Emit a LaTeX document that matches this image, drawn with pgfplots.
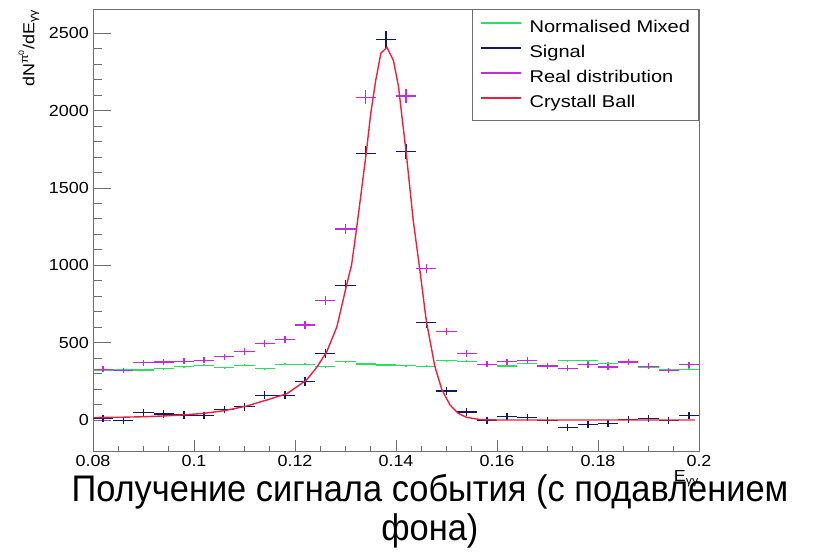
\documentclass[border=0pt]{standalone}
\usepackage{fontspec}
\setmainfont{Liberation Sans}
\newfontfamily\tickfont[FakeStretch=1.12]{Liberation Sans}
\newfontfamily\legfont[FakeStretch=1.18]{Liberation Sans}
\newfontfamily\titlefont[FakeStretch=0.93]{Liberation Sans}
\usepackage{pgfplots}
\usepackage{pgfplotstable}
\pgfplotsset{compat=1.18}

\definecolor{cgreen}{RGB}{40,225,90}
\definecolor{cnavy}{RGB}{15,25,105}
\definecolor{cmag}{RGB}{200,40,230}
\definecolor{cred}{RGB}{240,30,60}
\definecolor{frame}{RGB}{110,110,110}

% normalised mixed-event background
\pgfplotstableread{
x y ey
0.082 320 7
0.086 323 7
0.090 323 7
0.094 332 7
0.098 345 7
0.102 354 7
0.106 338 7
0.110 354 7
0.114 332 7
0.118 360 7
0.122 360 7
0.126 345 7
0.130 377 7
0.134 362 7
0.138 356 7
0.142 351 7
0.146 347 7
0.150 383 7
0.154 379 7
0.158 360 7
0.162 349 7
0.166 366 7
0.170 353 7
0.174 383 7
0.178 383 7
0.182 366 7
0.186 373 7
0.190 340 7
0.194 328 7
0.198 328 7
}\mixed

% background-subtracted signal
\pgfplotstableread{
x y ey
0.082 11 22
0.086 -4 22
0.090 47 23
0.094 39 23
0.098 32 23
0.102 30 24
0.106 69 24
0.110 86 25
0.114 160 26
0.118 160 26
0.122 250 28
0.126 431 30
0.130 868 37
0.134 1724 47
0.138 2461 54
0.142 1734 47
0.146 629 33
0.150 187 27
0.154 52 24
0.158 -4 23
0.162 21 23
0.166 17 24
0.170 -4 23
0.174 -47 23
0.178 -28 23
0.182 -24 23
0.186 4 23
0.190 9 23
0.194 -2 22
0.198 30 23
}\signal

% real (same-event) distribution
\pgfplotstableread{
x y ey
0.082 328 18.1
0.086 319 17.9
0.090 370 19.2
0.094 375 19.4
0.098 379 19.5
0.102 386 19.6
0.106 409 20.2
0.110 442 21.0
0.114 496 22.3
0.118 519 22.8
0.122 614 24.8
0.126 771 27.8
0.130 1235 35.1
0.134 2086 45.7
0.138 2817 53.1
0.142 2094 45.8
0.146 980 31.3
0.150 571 23.9
0.154 431 20.8
0.158 360 19.0
0.162 377 19.4
0.166 386 19.6
0.170 349 18.7
0.174 334 18.3
0.178 358 18.9
0.182 343 18.5
0.186 375 19.4
0.190 347 18.6
0.194 321 17.9
0.198 358 18.9
}\real

% Crystal Ball fit, sampled
\pgfplotstableread{
x y
0.0801 16
0.0860 18
0.0900 21
0.0940 26
0.0980 33
0.1020 43
0.1060 60
0.1104 90
0.1144 129
0.1184 170
0.1223 259
0.1243 340
0.1263 442
0.1283 603
0.1302 870
0.1312 1002
0.1322 1239
0.1341 1724
0.1350 1983
0.1360 2198
0.1370 2370
0.1382 2409
0.1395 2323
0.1405 2155
0.1411 1983
0.1420 1734
0.1434 1293
0.1448 950
0.1460 640
0.1477 345
0.1491 194
0.1507 97
0.1523 43
0.1540 17
0.1566 3
0.1600 0
0.1700 0
0.1800 0
0.1900 0
0.1992 0
}\cball

\begin{document}
\begin{tikzpicture}[x=1pt,y=1pt]
\path[use as bounding box] (0,0) rectangle (822,553);
\begin{axis}[
  at={(93pt,101.3pt)}, anchor=south west,
  scale only axis, width=606pt, height=442.4pt,
  xmin=0.08, xmax=0.2, ymin=-205, ymax=2655,
  axis line style={frame, line width=0.8pt},
  tick pos=left, tick align=inside,
  xtick={0.08,0.1,0.12,0.14,0.16,0.18,0.2},
  xticklabels={0.08,0.1,0.12,0.14,0.16,0.18,0.2},
  ytick={0,500,1000,1500,2000,2500},
  yticklabels={0,500,1000,1500,2000,2500},
  minor x tick num=3, minor y tick num=4,
  major tick length=18pt, minor tick length=9pt,
  xtick style={draw=none},
  ytick style={frame, line width=0.8pt},
  xmajorgrids, xminorgrids,
  major x grid style={frame, line width=0.8pt, dash pattern=on 12pt off 2000pt},
  minor x grid style={frame, line width=0.8pt, dash pattern=on 6pt off 2000pt},
  ticklabel style={font=\tickfont\fontsize{16}{16}\selectfont, inner sep=0pt},
  xticklabel style={anchor=north, yshift=-3.5pt},
  yticklabel style={anchor=east, xshift=-4pt},
  xlabel={E\textsubscript{γγ}},
  xlabel style={at={(axis description cs:1,0)}, anchor=north east, yshift=-19pt,
    inner sep=0pt, font=\tickfont\fontsize{16}{16}\selectfont},
  ylabel={dN\textsuperscript{π\textsuperscript{0}}/dE\textsubscript{γγ}},
  ylabel style={at={(axis description cs:-0.1056,1)}, anchor=east,
    inner sep=0pt, font=\tickfont\fontsize{16}{16}\selectfont},
  title={Получение сигнала события (с подавлением\\фона)},
  title style={at={(axis description cs:0.556,-0.064)}, anchor=north, align=center,
    inner sep=0pt, font=\titlefont\fontsize{37}{39}\selectfont},
  legend style={at={(1,1)}, anchor=north east, draw=frame, line width=0.8pt,
    fill=white, inner xsep=8.5pt, inner ysep=10pt, row sep=9pt,
    font=\legfont\fontsize{17}{17}\selectfont,
    nodes={inner sep=0pt, text height=12.5pt, text depth=3.5pt}},
  legend cell align=left,
]
% legend entries: coloured line samples with a gap before the text
\addlegendimage{legend image code/.code={%
  \fill[fill=cgreen, draw=none] (0pt,4.1pt) rectangle (40pt,5.9pt);
  \path (48pt,5pt);}}
\addlegendentry{Normalised Mixed}
\addlegendimage{legend image code/.code={%
  \fill[fill=cnavy, draw=none] (0pt,4.1pt) rectangle (40pt,5.9pt);
  \path (48pt,5pt);}}
\addlegendentry{Signal}
\addlegendimage{legend image code/.code={%
  \fill[fill=cmag, draw=none] (0pt,4.1pt) rectangle (40pt,5.9pt);
  \path (48pt,5pt);}}
\addlegendentry{Real distribution}
\addlegendimage{legend image code/.code={%
  \fill[fill=cred, draw=none] (0pt,4.1pt) rectangle (40pt,5.9pt);
  \path (48pt,5pt);}}
\addlegendentry{Crystall Ball}

% histograms drawn as bin-width crosses with statistical errors
\addplot[forget plot, draw=none, mark=none,
  error bars/.cd, x dir=both, x fixed=0.002, y dir=both, y explicit,
  error mark=none, error bar style={draw=cgreen, solid, line width=1.3pt}]
  table[x=x, y=y, y error=ey] {\mixed};
\addplot[forget plot, draw=none, mark=none,
  error bars/.cd, x dir=both, x fixed=0.002, y dir=both, y explicit,
  error mark=none, error bar style={draw=cmag, solid, line width=1.3pt}]
  table[x=x, y=y, y error=ey] {\real};
\addplot[forget plot, draw=none, mark=none,
  error bars/.cd, x dir=both, x fixed=0.002, y dir=both, y explicit,
  error mark=none, error bar style={draw=cnavy, solid, line width=1.3pt}]
  table[x=x, y=y, y error=ey] {\signal};
% fitted line shape
\addplot[forget plot, cred, line width=1.4pt, mark=none] table[x=x, y=y] {\cball};
\end{axis}
\end{tikzpicture}
\end{document}
